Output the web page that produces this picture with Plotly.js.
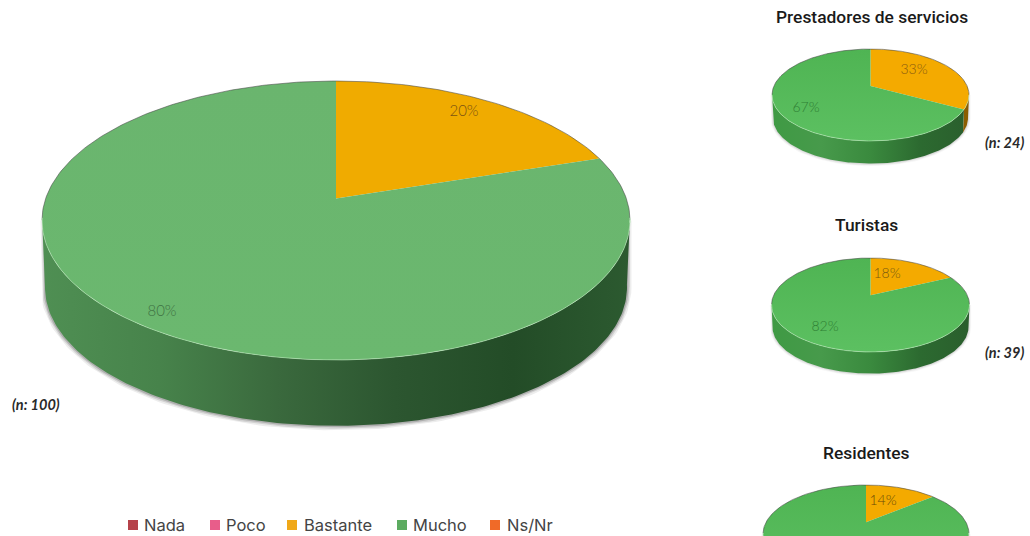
<!DOCTYPE html>
<html>
<head>
<meta charset="utf-8">
<script src="https://cdn.plot.ly/plotly-3.0.1.min.js"></script>
<style>html,body{margin:0;padding:0;background:#fff}#chart{width:1030px;height:536px}</style>
</head>
<body>
<div id="chart"></div>
<script>
// Answer categories and the share of each one per group of respondents
const categories = ['Nada', 'Poco', 'Bastante', 'Mucho', 'Ns/Nr'];
const totalValues = [0, 0, 20, 80, 0];
const prestadoresValues = [0, 0, 33, 67, 0];
const turistasValues = [0, 0, 18, 82, 0];
const residentesValues = [0, 0, 14, 86, 0];
const categoryColors = ['#b5424a', '#e85d8a', '#f0a818', '#5cab60', '#f06a28'];
const keySwatchX = [133, 215, 292, 402, 495];
const keyTextX = [144, 226, 304, 413, 507];
const keySwatchY = 525;
const keyTextY = 526.5;

// Pie geometry in plot units: ellipse of the lid, apex shift from tilt, wall depth
const mainStyle = {
  cx: 336, cy: 220.5, rx: 294, ry: 139.5, k: 0.158, depth: 67, inset: 3,
  top: {2: ['#f0ab00', '#f0ab00'], 3: ['#6ab56e', '#6bb86f']},
  wall: {2: ['#b07a00', '#7a5400'], 3: ['#4f8f53', '#47834b', '#3a693d', '#2c5630', '#234c27', '#2c5a30']},
  shadow: 1, labelSize: 15
};
const smallTop = {2: ['#f4aa00', '#f4aa00'], 3: ['#4fb453', '#5cc061']};
const smallWall = {2: ['#b87c00', '#8a5c00'], 3: ['#3f9a44', '#479a4b', '#3a8a3e', '#2c6a30', '#2a5e2d']};
const pies = [
  {values: totalValues, style: mainStyle, labels: {2: [464, 112, '#7a5312'], 3: [162, 312, '#3f7343']}},
  {values: prestadoresValues, style: {cx: 870.5, cy: 95, rx: 98.5, ry: 46, k: 0.196, depth: 23, inset: 1, top: smallTop, wall: smallWall, shadow: 0.45, labelSize: 14},
   labels: {2: [914, 70, '#8a5c10'], 3: [806, 108, '#2f7f34']}},
  {values: turistasValues, style: {cx: 870.5, cy: 305, rx: 99, ry: 47, k: 0.21, depth: 22, inset: 1, top: smallTop, wall: smallWall, shadow: 0.45, labelSize: 14},
   labels: {2: [887, 274, '#7a5a10'], 3: [825, 327, '#2f7f34']}},
  {values: residentesValues, style: {cx: 866, cy: 534, rx: 103, ry: 49, k: 0.24, depth: 23, inset: 1, top: smallTop, wall: smallWall, shadow: 0.45, labelSize: 14},
   labels: {2: [883, 501, '#6a4a08']}}
];
const titles = [['Prestadores de servicios', 872, 17], ['Turistas', 866, 225], ['Residentes', 866, 453]];
const sampleNotes = [['(n: 100)', 10, 404, 'left'], ['(n: 24)', 1026, 142, 'right'], ['(n: 39)', 1026, 352, 'right']];

// Maps a point on the flat disc onto the tilted lid, keeping the rim on the ellipse
function project(s, px, py) {
  const d = 1 + s.k * py;
  return [(px * Math.sqrt(1 - s.k * s.k)) / d, (py + s.k) / d];
}
function rimPoint(s, deg) {
  const a = deg * Math.PI / 180;
  return project(s, Math.sin(a), Math.cos(a));
}
function toLid(s, p) { return [s.cx + s.rx * p[0], s.cy - s.ry * p[1]]; }
function toFloor(s, p) { return [s.cx + (s.rx - s.inset) * p[0], s.cy + s.depth - (s.ry - s.inset * 0.4) * p[1]]; }
function scale(colors) {
  return colors.map((c, i) => [colors.length > 1 ? i / (colors.length - 1) : 0, c]);
}
function angleRange(a, b) {
  const out = [];
  for (let d = a; d < b; d += 1) out.push(d);
  out.push(b);
  return out;
}

const traces = [];
pies.forEach(pie => {
  const s = pie.style;
  const sum = pie.values.reduce((t, v) => t + v, 0);
  const full = angleRange(0, 360);

  // Soft shadow hugging the base of the drum, running up behind the lid at both sides
  const front = full.map(d => [d, rimPoint(s, d)]).filter(e => e[1][1] <= 0.02);
  const ordered = front.slice().sort((a, b) => a[1][0] - b[1][0]);
  const floorLine = ordered.map(e => toFloor(s, e[1]));
  const outline = [[floorLine[0][0], s.cy]].concat(floorLine, [[floorLine[floorLine.length - 1][0], s.cy]]);
  [[9, 0.05], [6, 0.08], [3, 0.12]].forEach(w => {
    traces.push({type: 'scatter', mode: 'lines', x: outline.map(p => p[0]), y: outline.map(p => p[1]),
      line: {color: `rgba(0,0,0,${w[1] * s.shadow * 1.4})`, width: w[0] * (s.shadow < 1 ? 0.6 : 1)},
      hoverinfo: 'skip', showlegend: false});
  });

  // Walls first, then the lid slices on top
  let start = 0;
  const spans = pie.values.map(v => {
    const span = [start, start + v / sum * 360];
    start = span[1];
    return span;
  });
  pie.values.forEach((v, i) => {
    if (!v) return;
    const arc = angleRange(spans[i][0], spans[i][1]).map(d => rimPoint(s, d)).filter(p => p[1] <= 0.02);
    if (!arc.length) return;
    const upper = arc.map(p => toLid(s, p));
    const lower = arc.map(p => toFloor(s, p)).reverse();
    const poly = upper.concat(lower);
    traces.push({type: 'scatter', mode: 'lines', x: poly.map(p => p[0]), y: poly.map(p => p[1]),
      fill: 'toself', line: {width: 0},
      fillgradient: {type: 'horizontal', start: s.cx - s.rx, stop: s.cx + s.rx, colorscale: scale(s.wall[i] || ['#666', '#444'])},
      hoverinfo: 'skip', showlegend: false});
  });
  pie.values.forEach((v, i) => {
    if (!v) return;
    const rim = angleRange(spans[i][0], spans[i][1]).map(d => toLid(s, rimPoint(s, d)));
    const apex = toLid(s, project(s, 0, 0));
    const poly = [apex].concat(rim, [apex]);
    traces.push({type: 'scatter', mode: 'lines', x: poly.map(p => p[0]), y: poly.map(p => p[1]),
      fill: 'toself', line: {width: 0},
      fillgradient: {type: 'vertical', start: s.cy - s.ry, stop: s.cy + s.ry, colorscale: scale(s.top[i] || ['#999', '#999'])},
      name: categories[i], hoverinfo: 'skip', showlegend: false});
  });

  // Thin rim: grey on the far edge, a pale highlight along the near edge
  const back = full.map(d => rimPoint(s, d)).filter(p => p[1] > 0).sort((a, b) => a[0] - b[0]).map(p => toLid(s, p));
  traces.push({type: 'scatter', mode: 'lines', x: back.map(p => p[0]), y: back.map(p => p[1]),
    line: {color: 'rgba(70,70,70,0.55)', width: 1}, hoverinfo: 'skip', showlegend: false});
  const near = ordered.map(e => toLid(s, e[1]));
  traces.push({type: 'scatter', mode: 'lines', x: near.map(p => p[0]), y: near.map(p => p[1]),
    line: {color: 'rgba(190,235,190,0.55)', width: 1}, hoverinfo: 'skip', showlegend: false});

  // Percentage labels
  pie.values.forEach((v, i) => {
    const at = pie.labels[i];
    if (!v || !at) return;
    traces.push({type: 'scatter', mode: 'text', x: [at[0]], y: [at[1]], text: [v + '%'],
      textposition: 'middle center', textfont: {family: 'Lato, sans-serif', size: s.labelSize, color: at[2], weight: 300},
      hoverinfo: 'skip', showlegend: false});
  });
});

// Key along the bottom edge: one swatch and name per answer category
categories.forEach((c, i) => {
  traces.push({type: 'scatter', mode: 'markers', x: [keySwatchX[i]], y: [keySwatchY], name: c,
    marker: {symbol: 'square', size: 10, color: categoryColors[i]}, hoverinfo: 'skip', showlegend: false});
  traces.push({type: 'scatter', mode: 'text', x: [keyTextX[i]], y: [keyTextY], text: [c], name: c,
    textposition: 'middle right', textfont: {family: 'Inter, sans-serif', size: 16.5, color: '#444'},
    hoverinfo: 'skip', showlegend: false});
});

const annotations = titles.map(t => ({
  text: t[0], x: t[1], y: t[2], xref: 'x', yref: 'y', showarrow: false, xanchor: 'center', yanchor: 'middle',
  font: {family: 'Roboto, sans-serif', size: 17.4, color: '#1a1a1a', weight: 500}
})).concat(sampleNotes.map(n => ({
  text: '<b><i>' + n[0] + '</i></b>', x: n[1], y: n[2], xref: 'x', yref: 'y', showarrow: false,
  xanchor: n[3], yanchor: 'middle',
  font: {family: 'Lato, sans-serif', size: 14.5, color: '#2a2a2a'}
})));

const hidden = {visible: false, fixedrange: true};
Plotly.newPlot('chart', traces, {
  width: 1030, height: 536,
  margin: {l: 0, r: 0, t: 0, b: 0},
  paper_bgcolor: '#fff', plot_bgcolor: '#fff',
  xaxis: Object.assign({range: [0, 1030]}, hidden),
  yaxis: Object.assign({range: [536, 0]}, hidden),
  annotations: annotations,
  showlegend: false
}, {displayModeBar: false, staticPlot: true});
</script>
</body>
</html>
